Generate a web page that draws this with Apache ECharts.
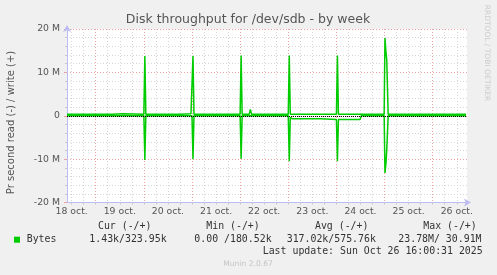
<!DOCTYPE html>
<html><head><meta charset="utf-8">
<script src="https://cdn.jsdelivr.net/npm/echarts@6/dist/echarts.min.js"></script>
<style>html,body{margin:0;padding:0;background:#f0f0f0}#c{width:497px;height:275px}</style>
</head><body><div id="c"></div><script>
// ---- data (x = hours since 18 oct 00:00, y = MB/s) ----
const chartTitle = 'Disk throughput for /dev/sdb - by week';
const yAxisName = 'Pr second read (-) / write (+)';
const xStart = 9.69, xEnd = 209.1;
const dayLabelHours = [12, 36, 60, 84, 108, 132, 156, 180, 204];
const dayLabels = ['18 oct.', '19 oct.', '20 oct.', '21 oct.', '22 oct.', '23 oct.', '24 oct.', '25 oct.', '26 oct.'];
const midnightHours = [24, 48, 72, 96, 120, 144, 168, 192];
const yTickLabels = {'20': '20 M', '10': '10 M', '0': '0', '-10': '-10 M', '-20': '-20 M'};
const writeM = [
  [9.7, 0.32], [32.5, 0.32], [33, 0.45], [37.5, 0.45], [38, 0.32],
  [48, 0.32], [48.5, 13.8], [49, 0.32],
  [66.5, 0.32], [67, 0.45], [71.5, 0.45], [72, 0.32], [72.5, 13.8], [73, 0.32],
  [96, 0.32], [96.5, 13.9], [97, 0.32],
  [100.5, 0.32], [101.1, 1.45], [101.7, 0.32],
  [120, 0.32], [120.5, 13.9], [121, 0.32],
  [144, 0.32], [144.5, 13.9], [145, 0.32],
  [167.8, 0.32], [168.2, 17.9], [168.7, 14.7], [169.1, 12.8], [169.8, 0.32],
  [208.6, 0.32]
];
const readM = [
  [9.7, -0.02], [48, -0.02], [48.5, -10.2], [49, -0.02],
  [72, -0.02], [72.5, -10], [73, -0.02],
  [96, -0.02], [96.5, -9.9], [97, -0.02],
  [120, -0.02], [120.5, -10.5], [121, -0.4], [122, -0.72], [136.3, -0.72], [136.6, -0.9], [137, -0.85],
  [144, -0.85], [144.5, -10.5], [145, -0.85], [148.5, -0.85], [149.1, -0.6], [149.8, -0.85],
  [150.8, -0.85], [151.3, -0.6], [151.9, -0.85], [153.2, -0.85], [153.7, -0.6], [154.3, -0.85],
  [155.8, -0.85], [156.4, -0.02],
  [167.8, -0.02], [168.2, -13.2], [168.7, -11], [169.1, -7.8], [169.8, -0.02],
  [208.6, -0.02]
];
const legendHeaders = ['Cur (-/+)', 'Min (-/+)', 'Avg (-/+)', 'Max (-/+)'];
const legendValues = ['1.43k/323.95k', '0.00 /180.52k', '317.02k/575.76k', '23.78M/ 30.91M'];
const seriesName = 'Bytes';
const lastUpdate = 'Last update: Sun Oct 26 16:00:31 2025';
const footer = 'Munin 2.0.67';
const watermark = 'RRDTOOL / TOBI OETIKER';

// ---- styling ----
const GREEN = '#00cc00';
const MINOR = '#d6d6d6';
const MAJOR = '#eba3a3';
const AXIS = '#bcbcf4';
const LABEL = '#555555';
const sixHour = [];
for (let h = 12; h < xEnd; h += 6) sixHour.push(h);

const chart = echarts.init(document.getElementById('c'), null, {renderer: 'canvas'});
const mono = '"DejaVu Sans Mono", monospace';
const sans = '"DejaVu Sans", sans-serif';
const legendX = [124.7, 233, 341.7, 450];
const valueX = [89.3, 194.3, 286.7, 398.3];
const graphics = [
  {type: 'text', x: 248, y: 19.5, style: {text: chartTitle, font: '12.5px ' + sans, fill: LABEL, textAlign: 'center', textVerticalAlign: 'middle'}},
  {type: 'text', x: 11, y: 122.5, rotation: Math.PI / 2, style: {text: yAxisName, font: '10px ' + sans, fill: LABEL, textAlign: 'center', textVerticalAlign: 'middle'}},
  {type: 'text', x: 487, y: 53, rotation: -Math.PI / 2, style: {text: watermark, font: '7.5px ' + sans, fill: '#cccccc', textAlign: 'center', textVerticalAlign: 'middle'}},
  {type: 'rect', shape: {x: 14, y: 236.7, width: 6, height: 6}, style: {fill: GREEN}},
  {type: 'text', x: 26.7, y: 239.7, style: {text: seriesName, font: '9.9px ' + mono, fill: '#333', textVerticalAlign: 'middle'}},
  {type: 'text', x: 482.7, y: 251.7, style: {text: lastUpdate, font: '9.9px ' + mono, fill: '#333', textAlign: 'right', textVerticalAlign: 'middle'}},
  {type: 'text', x: 248, y: 264, style: {text: footer, font: '7.6px ' + sans, fill: '#c4c4c4', textAlign: 'center', textVerticalAlign: 'middle'}}
];
legendHeaders.forEach((t, i) => graphics.push({type: 'text', x: legendX[i], y: 226.7, style: {text: t, font: '9.9px ' + mono, fill: '#333', textAlign: 'center', textVerticalAlign: 'middle'}}));
legendValues.forEach((t, i) => graphics.push({type: 'text', x: valueX[i], y: 239.7, style: {text: t, font: '9.9px ' + mono, fill: '#333', textVerticalAlign: 'middle'}}));

chart.setOption({
  animation: false,
  backgroundColor: '#f0f0f0',
  grid: {left: 67, right: 30, top: 29, bottom: 72.5, show: true, backgroundColor: '#ffffff', borderWidth: 0},
  xAxis: [
    {
      type: 'value', min: xStart, max: xEnd, position: 'bottom',
      axisLine: {show: true, onZero: false, lineStyle: {color: AXIS, width: 1}, symbol: ['none', 'arrow'], symbolSize: [6, 7], symbolOffset: [0, 4]},
      axisTick: {show: true, customValues: sixHour, length: 2, inside: false, lineStyle: {color: '#c8c8c8'}},
      axisLabel: {show: true, customValues: dayLabelHours, margin: 4.5, fontFamily: sans, fontSize: 9.3, color: LABEL,
        formatter: v => dayLabels[dayLabelHours.indexOf(v)] || ''},
      splitLine: {show: true, lineStyle: {color: MINOR, type: [1, 2], width: 1}}
    },
    {
      type: 'value', min: xStart, max: xEnd, position: 'bottom',
      axisLine: {show: false},
      axisTick: {show: true, customValues: midnightHours, length: 2, inside: false, lineStyle: {color: MAJOR}},
      axisLabel: {show: false},
      splitLine: {show: true, lineStyle: {color: MAJOR, type: [1, 2], width: 1}}
    }
  ],
  yAxis: {
    type: 'value', min: -20, max: 20, interval: 10,
    axisLine: {show: true, onZero: false, lineStyle: {color: AXIS, width: 1}, symbol: ['none', 'arrow'], symbolSize: [6, 7], symbolOffset: [0, 4]},
    axisTick: {show: true, length: 3, lineStyle: {color: MAJOR}},
    minorTick: {show: true, splitNumber: 5, length: 2, lineStyle: {color: '#c8c8c8'}},
    axisLabel: {margin: 7, fontFamily: sans, fontSize: 9.3, color: LABEL, formatter: v => yTickLabels[String(v)]},
    splitLine: {show: true, lineStyle: {color: MAJOR, type: [1, 2], width: 1}},
    minorSplitLine: {show: true, lineStyle: {color: MINOR, type: [1, 2], width: 1}}
  },
  series: [
    {name: 'write', type: 'line', data: writeM, showSymbol: false, xAxisIndex: 0, lineStyle: {color: GREEN, width: 1.5}, itemStyle: {color: GREEN}, z: 3},
    {name: 'read', type: 'line', data: readM, showSymbol: false, xAxisIndex: 0, lineStyle: {color: GREEN, width: 1.5}, itemStyle: {color: GREEN}, z: 3,
      markLine: {silent: true, symbol: 'none', label: {show: false}, z: 10,
        lineStyle: {color: '#000000', type: [1, 1], width: 1}, data: [{yAxis: 0}]}}
  ],
  graphic: graphics
});
</script></body></html>
